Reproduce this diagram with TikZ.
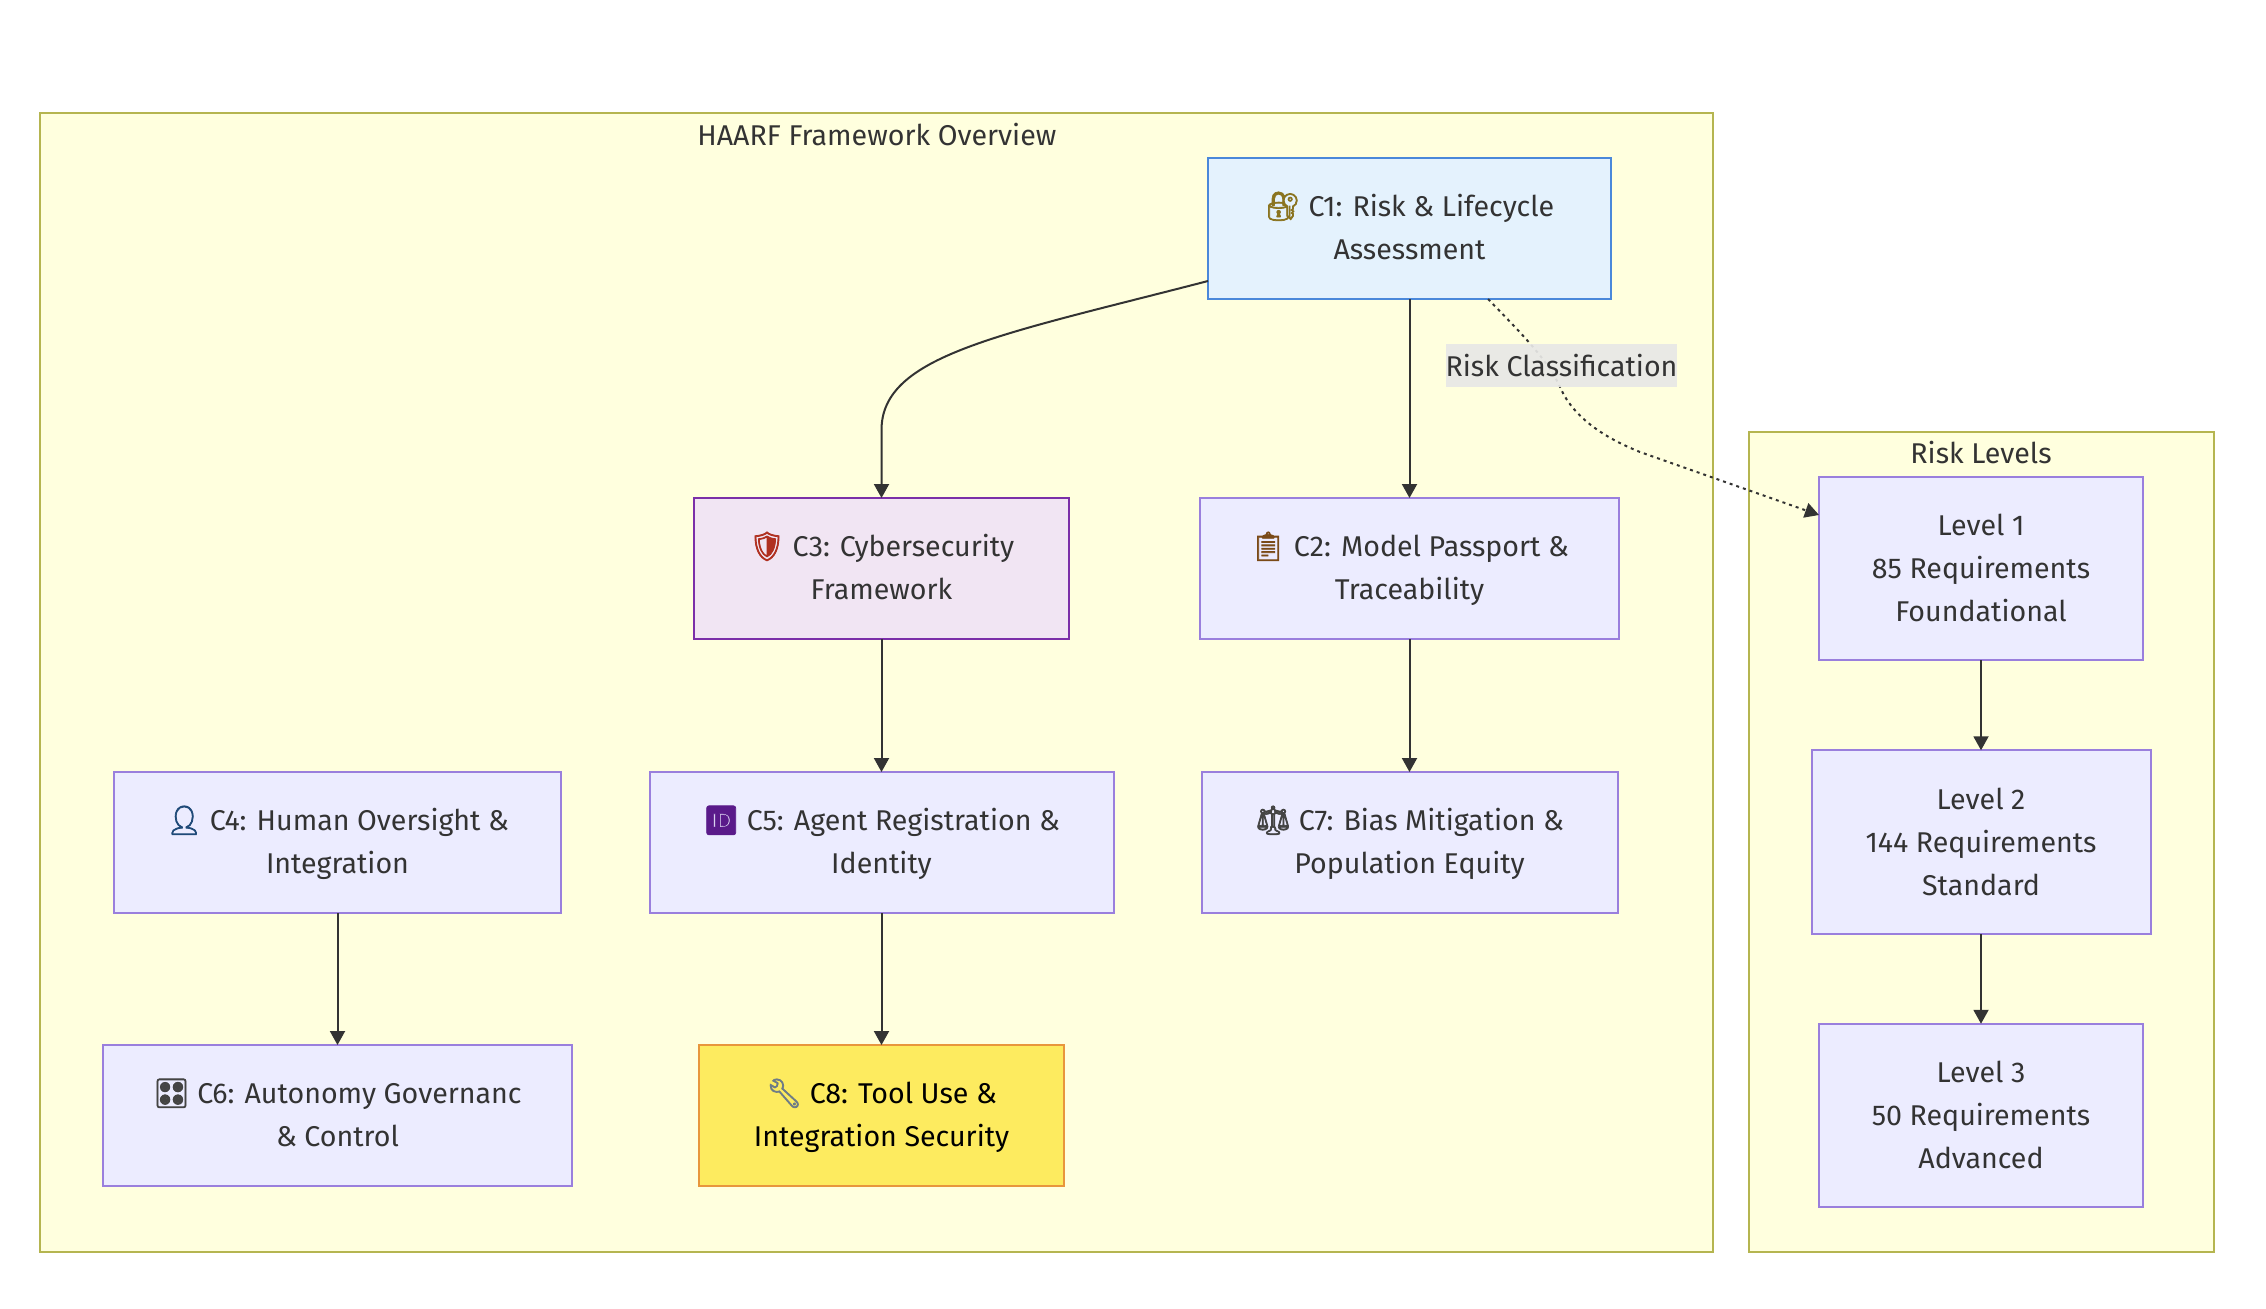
\documentclass[tikz,border=0pt]{standalone}
\usepackage{fontspec}
\setmainfont{Fira Sans}
\newfontfamily\emo[FakeBold=2.5]{Noto Emoji}
\usetikzlibrary{arrows.meta,calc}
\definecolor{ink}{HTML}{333333}
\definecolor{clfill}{HTML}{FFFFDE}
\definecolor{cldraw}{HTML}{B5B550}
\definecolor{nfill}{HTML}{ECECFF}
\definecolor{ndraw}{HTML}{9A7FDD}
\definecolor{HTMLblue}{HTML}{4A88DA}
\definecolor{HTMLbluef}{HTML}{E4F2FD}
\definecolor{HTMLpur}{HTML}{7B2FA8}
\definecolor{HTMLpurf}{HTML}{F1E5F3}
\definecolor{HTMLor}{HTML}{E8963C}
\definecolor{HTMLye}{HTML}{FDEB5F}
\definecolor{edgebg}{HTML}{E8E8E6}
\definecolor{emOlive}{HTML}{8A7420}
\definecolor{emRed}{HTML}{B03020}
\definecolor{emBrown}{HTML}{7A4A18}
\definecolor{emNavy}{HTML}{1F4A78}
\definecolor{emPurple}{HTML}{5A1A8A}
\definecolor{emGray}{HTML}{444444}
\definecolor{emSteel}{HTML}{6F7C86}
\tikzset{
  diagram/.style={x=.5pt,y=-.5pt,font=\fontsize{14.3pt}{21.5pt}\selectfont,text=ink},
  cluster/.style={draw=cldraw,fill=clfill,line width=1pt},
  basebox/.style={draw=ndraw,fill=nfill,line width=1pt,align=center,outer sep=0pt,inner sep=0pt,
    execute at end node={\vphantom{Hg}}},
  nodebox/.style={basebox,minimum height=70.5pt},
  levelbox/.style={basebox,minimum height=91.75pt},
  blue box/.style={nodebox,draw=HTMLblue,fill=HTMLbluef},
  purple box/.style={nodebox,draw=HTMLpur,fill=HTMLpurf},
  yellow box/.style={nodebox,draw=HTMLor,fill=HTMLye,text=black},
  flow/.style={draw=ink,line width=1pt,-{Triangle[length=7pt,width=7.5pt]}},
  dottedflow/.style={flow,dash pattern=on 1.5pt off 2pt},
  edgelabel/.style={fill=edgebg,fill opacity=.92,text opacity=1,inner xsep=0pt,inner ysep=0pt,minimum width=115.5pt,minimum height=21.5pt},
  title/.style={inner sep=0pt}
}
\newcommand{\emj}[2]{{\color{#1}\emo #2}}
\newcommand{\lpad}{\rule{0pt}{13.5pt}}
\begin{document}
\begin{tikzpicture}[diagram]
\useasboundingbox (0,0) rectangle (2266,1308);
\fill[white] (0,0) rectangle (2266,1308);
% clusters
\path[cluster] (40,113) rectangle (1713,1252);
\path[cluster] (1749,432) rectangle (2214,1252);
\begin{scope}
\clip (680,110) rectangle (1057,165);
\node[title,anchor=west] (haarf) at (697,135) {HAARF Framework Overview};
\end{scope}
\node[title] (risklevels) at (1981,453) {Risk Levels};
% nodes
\node[blue box,minimum width=201.5pt] (c1) at (1409.5,228.5) {\emj{emOlive}{🔐} C1: Risk \& Lifecycle\\Assessment};
\node[nodebox,minimum width=209.5pt] (c2) at (1409.5,568.5) {\emj{emBrown}{📋} C2: Model Passport \&\\Traceability};
\node[purple box,minimum width=187.5pt] (c3) at (881.5,568.5) {\emj{emRed}{🛡} C3: Cybersecurity\\Framework};
\node[nodebox,minimum width=223.5pt] (c4) at (337.5,842.5) {\emj{emNavy}{👤} C4: Human Oversight \&\\Integration};
\node[nodebox,minimum width=232pt] (c5) at (881.5,842.5) {\emj{emPurple}{🆔} C5: Agent Registration \&\\Identity};
\node[nodebox,minimum width=234.5pt] (c6) at (337.5,1115.5) {\emj{emGray}{🎛} C6: Autonomy Governanc\\\& Control};
\node[nodebox,minimum width=208pt] (c7) at (1409.5,842.5) {\emj{emGray}{⚖} C7: Bias Mitigation \&\\Population Equity};
\node[yellow box,minimum width=182.5pt] (c8) at (881.5,1115.5) {\emj{emSteel}{🔧} C8: Tool Use \&\\Integration Security};
\node[levelbox,minimum width=162pt] (l1) at (1981,568.5) {\lpad Level 1\\85 Requirements\\Foundational};
\node[levelbox,minimum width=169.5pt] (l2) at (1981,842) {\lpad Level 2\\144 Requirements\\Standard};
\node[levelbox,minimum width=162pt] (l3) at (1981,1115.5) {\lpad Level 3\\50 Requirements\\Advanced};
% connectors
\draw[flow] ([yshift=-26.25pt]c1.west) .. controls (1000,335) and (881.5,355) .. (881.5,430) -- (c3.north);
\draw[flow] (c1.south) -- (c2.north);
\draw[flow] (c3.south) -- (c5.north);
\draw[flow] (c2.south) -- (c7.north);
\draw[flow] (c4.south) -- (c6.north);
\draw[flow] (c5.south) -- (c8.north);
\draw[flow] (l1.south) -- (l2.north);
\draw[flow] (l2.south) -- (l3.north);
\draw[dottedflow] ([xshift=39.25pt]c1.south) .. controls (1520,332) and (1548,360) .. (1560,387) .. controls (1569,408) and (1590,432) .. (1640,452) -- ([yshift=26.75pt]l1.west);
\node[edgelabel] (risklabel) at (1561.5,365.5) {Risk Classification};
\end{tikzpicture}
\end{document}
